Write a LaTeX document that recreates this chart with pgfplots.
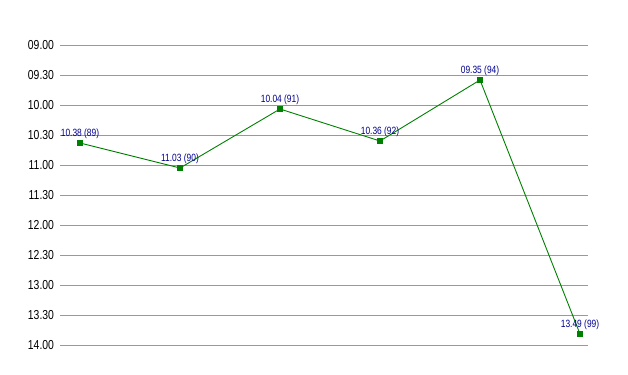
\documentclass[border=0pt]{standalone}
\usepackage{fontspec}
\setmainfont{Liberation Sans}
\newfontfamily\narrow[FakeStretch=0.8]{Liberation Sans}
\usepackage{pgfplots}
\pgfplotsset{compat=1.18}
\definecolor{lgreen}{HTML}{008000}
\definecolor{navy}{HTML}{000090}
\definecolor{gridgray}{HTML}{999999}
\begin{document}
\begin{tikzpicture}
\path[use as bounding box] (-60bp,-30bp) rectangle (568bp,345bp);
\begin{axis}[
  at={(0,0)}, anchor=south west,
  scale only axis, width=528bp, height=300bp,
  xmin=-0.2, xmax=5.08,
  ymin=0, ymax=300, y dir=reverse,
  axis line style={draw=none},
  xtick=\empty,
  ytick={0,30,60,90,120,150,180,210,240,270,300},
  yticklabels={09.00,09.30,10.00,10.30,11.00,11.30,12.00,12.30,13.00,13.30,14.00},
  yticklabel style={font=\fontsize{13bp}{13bp}\narrow, xshift=-2.5bp},
  major tick length=0pt,
  ymajorgrids, grid style={gridgray, line width=0.8bp},
  clip=false,
]
\addplot[color=lgreen, line width=0.9bp, mark=square*, mark size=2.5bp,
  mark options={fill=lgreen, draw=lgreen},
  point meta=explicit symbolic,
  nodes near coords,
  nodes near coords style={font=\fontsize{10.5bp}{10.5bp}\narrow, text=navy, anchor=south, inner sep=0pt, yshift=4bp}]
table[meta=label] {
x y label
0 98 {10.38 (89)}
1 123 {11.03 (90)}
2 64 {10.04 (91)}
3 96 {10.36 (92)}
4 35 {09.35 (94)}
5 289 {13.49 (99)}
};
\end{axis}
\end{tikzpicture}
\end{document}
